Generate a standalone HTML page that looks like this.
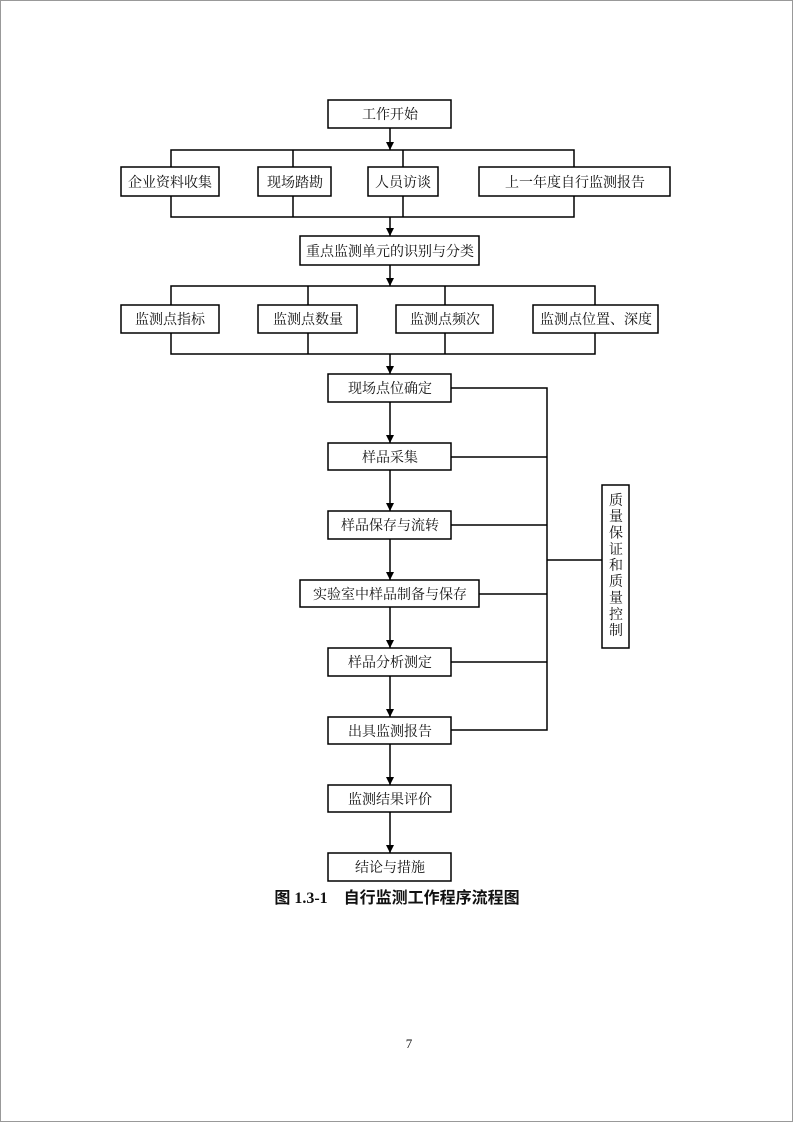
<!DOCTYPE html>
<html><head><meta charset="utf-8"><style>
html,body{margin:0;padding:0;background:#fff}
svg{display:block}
text{font-family:"Liberation Serif","Noto Serif CJK SC","Noto Sans CJK SC",serif;font-size:14px;fill:#111}
</style></head><body>
<svg width="793" height="1122" viewBox="0 0 793 1122" xmlns="http://www.w3.org/2000/svg">
<defs><marker id="a" markerWidth="8" markerHeight="8" refX="8" refY="4" orient="auto" markerUnits="userSpaceOnUse"><path d="M0,0 L8,4 L0,8 z" fill="#000"/></marker></defs>
<rect x="0.5" y="0.5" width="792" height="1121" fill="none" stroke="#999" stroke-width="1"/>
<g stroke="#000" stroke-width="1.5" fill="none">
<rect x="328" y="100" width="123" height="28"/>
<rect x="121" y="167" width="98" height="29"/>
<rect x="258" y="167" width="73" height="29"/>
<rect x="368" y="167" width="70" height="29"/>
<rect x="479" y="167" width="191" height="29"/>
<rect x="300" y="236" width="179" height="29"/>
<rect x="121" y="305" width="98" height="28"/>
<rect x="258" y="305" width="99" height="28"/>
<rect x="396" y="305" width="97" height="28"/>
<rect x="533" y="305" width="125" height="28"/>
<rect x="328" y="374" width="123" height="28"/>
<rect x="328" y="443" width="123" height="27"/>
<rect x="328" y="511" width="123" height="28"/>
<rect x="300" y="580" width="179" height="27"/>
<rect x="328" y="648" width="123" height="28"/>
<rect x="328" y="717" width="123" height="27"/>
<rect x="328" y="785" width="123" height="27"/>
<rect x="328" y="853" width="123" height="28"/>
<rect x="602" y="485" width="27" height="163"/>
<path d="M171,167 V150 H574 V167 M293,150 V167 M403,150 V167"/>
<path d="M171,196 V217 H574 V196 M293,196 V217 M403,196 V217"/>
<path d="M171,305 V286 H595 V305 M308,286 V305 M445,286 V305"/>
<path d="M171,333 V354 H595 V333 M308,333 V354 M445,333 V354"/>
<path d="M451,388 H547 V730 H451 M451,457 H547 M451,525 H547 M479,594 H547 M451,662 H547 M547,560 H602"/>
</g>
<g stroke="#000" stroke-width="1.5" marker-end="url(#a)">
<line x1="390" y1="128" x2="390" y2="150"/>
<line x1="390" y1="217" x2="390" y2="236"/>
<line x1="390" y1="265" x2="390" y2="286"/>
<line x1="390" y1="354" x2="390" y2="374"/>
<line x1="390" y1="402" x2="390" y2="443"/>
<line x1="390" y1="470" x2="390" y2="511"/>
<line x1="390" y1="539" x2="390" y2="580"/>
<line x1="390" y1="607" x2="390" y2="648"/>
<line x1="390" y1="676" x2="390" y2="717"/>
<line x1="390" y1="744" x2="390" y2="785"/>
<line x1="390" y1="812" x2="390" y2="853"/>
</g>
<g text-anchor="middle">
<text x="390" y="119">工作开始</text>
<text x="170" y="187">企业资料收集</text>
<text x="295" y="187">现场踏勘</text>
<text x="403" y="187">人员访谈</text>
<text x="575" y="187">上一年度自行监测报告</text>
<text x="390" y="256">重点监测单元的识别与分类</text>
<text x="170" y="324">监测点指标</text>
<text x="308" y="324">监测点数量</text>
<text x="445" y="324">监测点频次</text>
<text x="596" y="324">监测点位置、深度</text>
<text x="390" y="393">现场点位确定</text>
<text x="390" y="462">样品采集</text>
<text x="390" y="530">样品保存与流转</text>
<text x="390" y="599">实验室中样品制备与保存</text>
<text x="390" y="667">样品分析测定</text>
<text x="390" y="736">出具监测报告</text>
<text x="390" y="804">监测结果评价</text>
<text x="390" y="872">结论与措施</text>
<text x="616" y="505">质</text>
<text x="616" y="521">量</text>
<text x="616" y="537.5">保</text>
<text x="616" y="554">证</text>
<text x="616" y="570">和</text>
<text x="616" y="586">质</text>
<text x="616" y="602.5">量</text>
<text x="616" y="619">控</text>
<text x="616" y="635">制</text>
<text x="397" y="903" style="font-weight:bold;font-size:16px;font-family:'Liberation Serif','Noto Sans CJK SC',sans-serif" xml:space="preserve">图 1.3-1    自行监测工作程序流程图</text>
<text x="409" y="1048" style="font-size:13px">7</text>
</g>
</svg>
</body></html>
